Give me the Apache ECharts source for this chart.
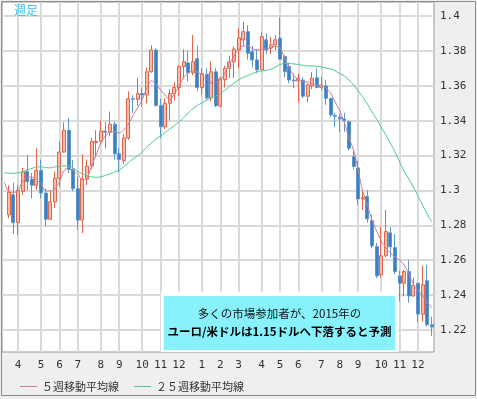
<!DOCTYPE html>
<html>
<head>
<meta charset="utf-8">
<title>ユーロ/米ドル 週足</title>
<script src="https://cdn.jsdelivr.net/npm/echarts@6/dist/echarts.min.js"></script>
<style>
  html, body { margin: 0; padding: 0; background: #fff; }
  #main { width: 477px; height: 399px; }
</style>
</head>
<body>
<div id="main"></div>
<script>
// 週足 2013/03/11 〜 2014/12/22（先頭の週はローソク無し、移動平均線のみ）
var opens = [null,
  1.2860, 1.2975, 1.2815, 1.2995, 1.3108, 1.3065, 1.3030, 1.3115, 1.2985, 1.2835,
  1.2935, 1.3070, 1.3220, 1.3345, 1.3120, 1.3010, 1.2830, 1.3065, 1.3140, 1.3275,
  1.3282, 1.3340, 1.3334, 1.3380, 1.3210, 1.3170, 1.3300, 1.3525, 1.3522, 1.3555,
  1.3547, 1.3680, 1.3805, 1.3487, 1.3365, 1.3500, 1.3555, 1.3590, 1.3710, 1.3731,
  1.3674, 1.3755, 1.3590, 1.3665, 1.3530, 1.3680, 1.3485, 1.3635, 1.3700, 1.3737,
  1.3805, 1.3863, 1.3910, 1.3795, 1.3748, 1.3691, 1.3863, 1.3816, 1.3834, 1.3872,
  1.3767, 1.3710, 1.3633, 1.3628, 1.3633, 1.3540, 1.3600, 1.3646, 1.3591, 1.3599,
  1.3528, 1.3430, 1.3420, 1.3410, 1.3394, 1.3194, 1.3129, 1.2950, 1.2965, 1.2827,
  1.2678, 1.2516, 1.2625, 1.2757, 1.2673, 1.2510, 1.2468, 1.2535, 1.2395, 1.2468,
  1.2291, 1.2483, 1.2230];
var closes = [null,
  1.2990, 1.2815, 1.3000, 1.3108, 1.3050, 1.3030, 1.3115, 1.2985, 1.2835, 1.2935,
  1.3070, 1.3220, 1.3345, 1.3120, 1.3010, 1.2830, 1.3065, 1.3140, 1.3280, 1.3282,
  1.3340, 1.3333, 1.3380, 1.3210, 1.3177, 1.3300, 1.3525, 1.3522, 1.3555, 1.3547,
  1.3680, 1.3805, 1.3487, 1.3365, 1.3500, 1.3555, 1.3590, 1.3710, 1.3738, 1.3674,
  1.3738, 1.3590, 1.3670, 1.3530, 1.3680, 1.3485, 1.3640, 1.3700, 1.3737, 1.3810,
  1.3874, 1.3910, 1.3786, 1.3748, 1.3691, 1.3881, 1.3805, 1.3834, 1.3863, 1.3752,
  1.3681, 1.3633, 1.3628, 1.3643, 1.3540, 1.3605, 1.3643, 1.3591, 1.3604, 1.3528,
  1.3433, 1.3425, 1.3410, 1.3400, 1.3242, 1.3137, 1.2951, 1.2960, 1.2837, 1.2682,
  1.2510, 1.2625, 1.2764, 1.2677, 1.2535, 1.2468, 1.2535, 1.2395, 1.2455, 1.2291,
  1.2459, 1.2230, 1.2217];
var lows = [null,
  1.2840, 1.2750, 1.2745, 1.2975, 1.3000, 1.2955, 1.3005, 1.2955, 1.2795, 1.2830,
  1.2900, 1.3020, 1.3215, 1.3100, 1.2995, 1.2775, 1.2755, 1.3030, 1.3125, 1.3188,
  1.3265, 1.3240, 1.3310, 1.3177, 1.3104, 1.3150, 1.3290, 1.3445, 1.3485, 1.3480,
  1.3500, 1.3675, 1.3480, 1.3300, 1.3350, 1.3400, 1.3515, 1.3540, 1.3638, 1.3625,
  1.3660, 1.3570, 1.3550, 1.3520, 1.3510, 1.3478, 1.3475, 1.3590, 1.3642, 1.3645,
  1.3700, 1.3830, 1.3750, 1.3705, 1.3672, 1.3690, 1.3780, 1.3782, 1.3804, 1.3750,
  1.3647, 1.3614, 1.3585, 1.3503, 1.3530, 1.3505, 1.3580, 1.3585, 1.3575, 1.3490,
  1.3420, 1.3365, 1.3333, 1.3335, 1.3230, 1.3120, 1.2917, 1.2888, 1.2815, 1.2670,
  1.2499, 1.2500, 1.2620, 1.2615, 1.2520, 1.2363, 1.2393, 1.2357, 1.2393, 1.2245,
  1.2248, 1.2220, 1.2166];
var highs = [null,
  1.3030, 1.3045, 1.3030, 1.3130, 1.3204, 1.3100, 1.3243, 1.3176, 1.3010, 1.3000,
  1.3107, 1.3280, 1.3390, 1.3416, 1.3175, 1.3080, 1.3207, 1.3178, 1.3300, 1.3345,
  1.3400, 1.3392, 1.3452, 1.3395, 1.3244, 1.3324, 1.3568, 1.3545, 1.3645, 1.3590,
  1.3705, 1.3832, 1.3815, 1.3525, 1.3530, 1.3580, 1.3620, 1.3720, 1.3808, 1.3800,
  1.3891, 1.3830, 1.3700, 1.3700, 1.3740, 1.3700, 1.3650, 1.3715, 1.3773, 1.3825,
  1.3930, 1.3967, 1.3946, 1.3830, 1.3810, 1.3905, 1.3900, 1.3880, 1.3890, 1.3993,
  1.3775, 1.3733, 1.3670, 1.3670, 1.3650, 1.3615, 1.3678, 1.3700, 1.3650, 1.3635,
  1.3530, 1.3445, 1.3440, 1.3445, 1.3400, 1.3225, 1.3170, 1.3003, 1.3000, 1.2860,
  1.2700, 1.2793, 1.2888, 1.2790, 1.2750, 1.2540, 1.2545, 1.2600, 1.2500, 1.2470,
  1.2570, 1.2573, 1.2277];

// 移動平均線
var ma5 = [
  1.3049, 1.2992, 1.2989, 1.2997, 1.3055, 1.3072, 1.3078, 1.3060, 1.3037, 1.2997,
  1.2997, 1.3009, 1.3049, 1.3112, 1.3132, 1.3112, 1.3095, 1.3060, 1.3072, 1.3140,
  1.3204, 1.3272, 1.3312, 1.3335, 1.3335, 1.3330, 1.3347, 1.3381, 1.3427, 1.3473,
  1.3519, 1.3587, 1.3628, 1.3610, 1.3576, 1.3547, 1.3519, 1.3553, 1.3599, 1.3645,
  1.3673, 1.3685, 1.3679, 1.3662, 1.3639, 1.3616, 1.3616, 1.3633, 1.3673, 1.3725,
  1.3771, 1.3811, 1.3828, 1.3828, 1.3811, 1.3805, 1.3808, 1.3811, 1.3817, 1.3825,
  1.3817, 1.3759, 1.3702, 1.3656, 1.3633, 1.3622, 1.3622, 1.3610, 1.3605, 1.3599,
  1.3587, 1.3559, 1.3507, 1.3456, 1.3388, 1.3301, 1.3232, 1.3118, 1.2992, 1.2917,
  1.2831, 1.2768, 1.2711, 1.2671, 1.2642, 1.2619, 1.2602, 1.2573, 1.2522, 1.2464,
  1.2424, 1.2401, 1.2361, 1.2327];
var ma25 = [
  1.3101, 1.3099, 1.3098, 1.3101, 1.3106, 1.3118, 1.3126, 1.3135, 1.3135, 1.3132,
  1.3129, 1.3135, 1.3138, 1.3141, 1.3141, 1.3129, 1.3109, 1.3095, 1.3083, 1.3078,
  1.3075, 1.3078, 1.3086, 1.3095, 1.3106, 1.3115, 1.3135, 1.3158, 1.3181, 1.3198,
  1.3221, 1.3249, 1.3272, 1.3295, 1.3312, 1.3332, 1.3353, 1.3370, 1.3393, 1.3416,
  1.3444, 1.3467, 1.3487, 1.3502, 1.3516, 1.3530, 1.3542, 1.3556, 1.3576, 1.3596,
  1.3616, 1.3633, 1.3648, 1.3659, 1.3670, 1.3679, 1.3685, 1.3688, 1.3694, 1.3708,
  1.3722, 1.3728, 1.3728, 1.3725, 1.3722, 1.3717, 1.3714, 1.3714, 1.3711, 1.3708,
  1.3702, 1.3696, 1.3685, 1.3670, 1.3656, 1.3633, 1.3605, 1.3570, 1.3536, 1.3496,
  1.3450, 1.3410, 1.3364, 1.3318, 1.3272, 1.3221, 1.3163, 1.3112, 1.3066, 1.3020,
  1.2969, 1.2917, 1.2866, 1.2820];

// 目盛り
var monthIdx = [3, 8, 12, 16, 21, 25, 30, 34, 38, 43, 47, 51, 56, 60, 64, 69, 73, 77, 82, 86, 90];
var monthLabels = ['4', '5', '6', '7', '8', '9', '10', '11', '12', '1', '2', '3',
                   '4', '5', '6', '7', '8', '9', '10', '11', '12'];
var yTicks = [1.22, 1.24, 1.26, 1.28, 1.3, 1.32, 1.34, 1.36, 1.38, 1.4];

// 週の日付（カテゴリ）
var weeks = [];
var d0 = new Date(2013, 2, 11);
for (var i = 0; i < ma5.length; i++) {
    var d = new Date(d0.getTime() + i * 7 * 86400000);
    weeks.push(d.getFullYear() + '/' + (d.getMonth() + 1) + '/' + d.getDate());
}
var candles = [];
for (var i = 0; i < opens.length; i++) {
    if (opens[i] == null) candles.push(['-', '-', '-', '-']);
    else candles.push([opens[i], closes[i], lows[i], highs[i]]);
}

var monoFont = '"DejaVu Sans Mono", monospace';
var jpFont = '"Noto Sans CJK JP", sans-serif';

var chart = echarts.init(document.getElementById('main'), null, {renderer: 'canvas'});
chart.setOption({
    animation: false,
    backgroundColor: '#efefef',
    grid: {
        left: 2,
        right: 43,
        top: 2,
        bottom: 47,
        show: true,
        backgroundColor: '#fff',
        borderColor: '#999',
        borderWidth: 1
    },
    legend: {
        left: 15,
        top: 376,
        itemWidth: 17,
        itemHeight: 1,
        itemGap: 15,
        icon: 'rect',
        textStyle: { color: '#333', fontSize: 11, fontFamily: jpFont },
        data: ['５週移動平均線', '２５週移動平均線']
    },
    xAxis: [
        {
            type: 'category',
            data: weeks,
            position: 'top',
            boundaryGap: true,
            show: false
        },
        {
            type: 'value',
            position: 'bottom',
            min: -0.5,
            max: weeks.length - 0.5,
            axisLine: { show: false },
            axisTick: { show: false, customValues: monthIdx },
            axisLabel: {
                customValues: monthIdx,
                margin: 8,
                color: '#333',
                fontSize: 11,
                fontFamily: monoFont,
                formatter: function (v) {
                    var k = monthIdx.indexOf(Math.round(v));
                    return k < 0 ? '' : monthLabels[k];
                }
            },
            splitLine: { show: true, lineStyle: { color: '#dadada', width: 2 } }
        }
    ],
    yAxis: {
        type: 'value',
        position: 'right',
        min: 1.2074,
        max: 1.408,
        axisLine: { show: false },
        axisTick: { show: false, customValues: yTicks },
        axisLabel: {
            customValues: yTicks,
            margin: 6,
            color: '#333',
            fontSize: 11,
            fontFamily: monoFont,
            formatter: function (v) { return String(+v.toFixed(2)); }
        },
        splitLine: { show: true, lineStyle: { color: '#dadada', width: 2 } }
    },
    series: [
        {
            name: '週足',
            type: 'candlestick',
            xAxisIndex: 0,
            barWidth: 3.5,
            data: candles,
            itemStyle: {
                color: '#f4bcaa',
                borderColor: '#e0654a',
                color0: '#3d80c2',
                borderColor0: '#5c97d0',
                borderWidth: 1
            }
        },
        {
            name: '５週移動平均線',
            type: 'line',
            xAxisIndex: 0,
            data: ma5,
            showSymbol: false,
            smooth: 0.3,
            itemStyle: { color: '#c67f9e' },
            lineStyle: { color: '#c67f9e', width: 1 },
            z: 3
        },
        {
            name: '２５週移動平均線',
            type: 'line',
            xAxisIndex: 0,
            data: ma25,
            showSymbol: false,
            smooth: 0.3,
            itemStyle: { color: '#4fca8c' },
            lineStyle: { color: '#4fca8c', width: 1 },
            z: 3
        }
    ],
    graphic: [
        {
            type: 'text', left: 14, top: 4, z: 10,
            style: { text: '週足', fill: '#45c3f2', font: '12px ' + jpFont }
        },
        {
            type: 'rect', z: 10,
            shape: { x: 161, y: 292, width: 237, height: 60 },
            style: { fill: '#fff' }
        },
        {
            type: 'rect', z: 11,
            shape: { x: 164, y: 296, width: 231, height: 54 },
            style: { fill: '#88f2fc' }
        },
        {
            type: 'text', z: 12, x: 279.5, y: 314,
            style: {
                text: '多くの市場参加者が、2015年の',
                fill: '#111', font: '11.5px ' + jpFont,
                align: 'center', verticalAlign: 'middle'
            }
        },
        {
            type: 'text', z: 12, x: 279.5, y: 332,
            style: {
                text: 'ユーロ/米ドルは1.15ドルへ下落すると予測',
                fill: '#000', font: 'bold 11.5px ' + jpFont,
                align: 'center', verticalAlign: 'middle'
            }
        },
        {
            type: 'rect', z: 20, silent: true,
            shape: { x: 1.5, y: 1.5, width: 474, height: 394 },
            style: { fill: 'none', stroke: '#8c8c8c', lineWidth: 1 }
        }
    ]
});
</script>
</body>
</html>
